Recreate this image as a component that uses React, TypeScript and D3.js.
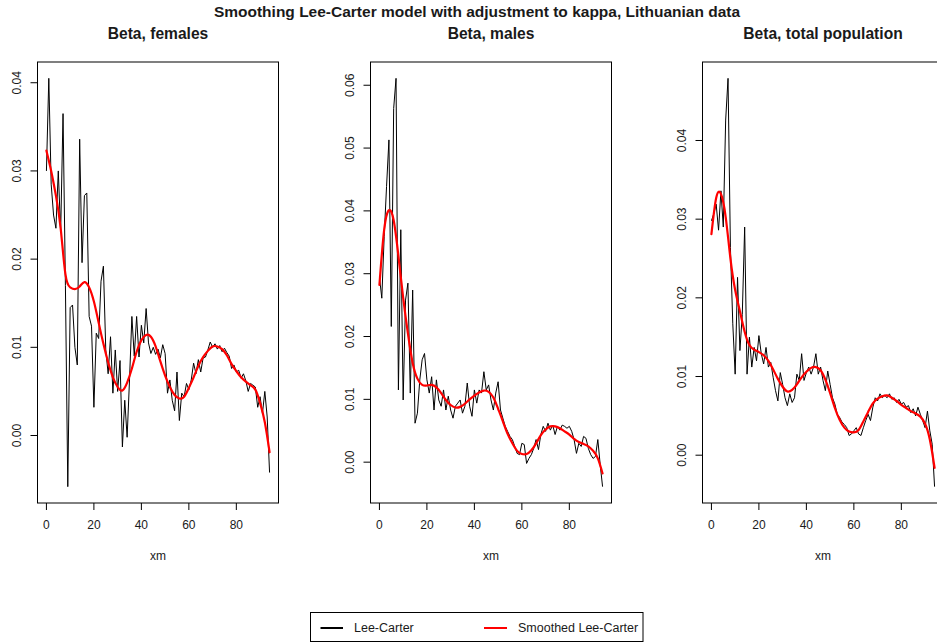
import React from "react";
import * as d3 from "d3";

// Ages 0..94
const ages: number[] = d3.range(0, 95);

// Lee-Carter beta estimates by age
const betaFemales: number[] = [
  0.0300, 0.0405, 0.0285, 0.0250, 0.0235, 0.0300, 0.0230, 0.0365, 0.0170, -0.0058,
  0.0145, 0.0148, 0.0100, 0.0080, 0.0336, 0.0196, 0.0272, 0.0275, 0.0135, 0.0124,
  0.0032, 0.0116, 0.0110, 0.0175, 0.0192, 0.0097, 0.0070, 0.0112, 0.0048, 0.0097,
  0.0050, 0.0085, -0.0013, 0.0040, -0.0002, 0.0063, 0.0135, 0.0090, 0.0135, 0.0089,
  0.0125, 0.0105, 0.0144, 0.0105, 0.0093, 0.0100, 0.0092, 0.0098, 0.0088, 0.0103,
  0.0093, 0.0048, 0.0063, 0.0040, 0.0028, 0.0072, 0.0017, 0.0048, 0.0044, 0.0059,
  0.0052, 0.0063, 0.0082, 0.0070, 0.0086, 0.0072, 0.0088, 0.0089, 0.0097, 0.0106,
  0.0100, 0.0104, 0.0098, 0.0102, 0.0095, 0.0099, 0.0094, 0.0090, 0.0076, 0.0080,
  0.0072, 0.0074, 0.0065, 0.0070, 0.0062, 0.0050, 0.0059, 0.0057, 0.0055, 0.0032,
  0.0044, 0.0025, 0.0050, 0.0021, -0.0042,
];

const betaMales: number[] = [
  0.0295, 0.0261, 0.0359, 0.0439, 0.0513, 0.0216, 0.0563, 0.0611, 0.0115, 0.0370,
  0.0099, 0.0258, 0.0285, 0.0110, 0.0274, 0.0062, 0.0078, 0.0131, 0.0163, 0.0173,
  0.0131, 0.0110, 0.0136, 0.0083, 0.0131, 0.0099, 0.0089, 0.0115, 0.0083, 0.0105,
  0.0083, 0.0070, 0.0089, 0.0094, 0.0099, 0.0078, 0.0089, 0.0126, 0.0089, 0.0073,
  0.0115, 0.0094, 0.0115, 0.0110, 0.0144, 0.0115, 0.0123, 0.0099, 0.0083, 0.0110,
  0.0128, 0.0083, 0.0070, 0.0057, 0.0049, 0.0041, 0.0036, 0.0025, 0.0014, 0.0012,
  0.0030, 0.0028, -0.0002, 0.0006, 0.0012, 0.0022, 0.0036, 0.0020, 0.0044, 0.0057,
  0.0049, 0.0062, 0.0051, 0.0059, 0.0044, 0.0057, 0.0051, 0.0059, 0.0057, 0.0054,
  0.0057, 0.0049, 0.0036, 0.0014, 0.0030, 0.0025, 0.0041, 0.0038, 0.0022, 0.0012,
  0.0006, 0.0009, 0.0036, -0.0004, -0.0039,
];

const betaTotal: number[] = [
  0.0298, 0.0307, 0.0319, 0.0286, 0.0336, 0.0290, 0.0426, 0.0479, 0.0264, 0.0167,
  0.0103, 0.0226, 0.0133, 0.0179, 0.0290, 0.0103, 0.0150, 0.0112, 0.0137, 0.0120,
  0.0152, 0.0129, 0.0116, 0.0137, 0.0112, 0.0118, 0.0099, 0.0082, 0.0069, 0.0105,
  0.0090, 0.0073, 0.0063, 0.0078, 0.0067, 0.0073, 0.0103, 0.0095, 0.0129, 0.0095,
  0.0105, 0.0112, 0.0103, 0.0112, 0.0129, 0.0103, 0.0112, 0.0095, 0.0082, 0.0107,
  0.0090, 0.0073, 0.0065, 0.0052, 0.0048, 0.0042, 0.0039, 0.0035, 0.0025, 0.0027,
  0.0031, 0.0035, 0.0027, 0.0025, 0.0035, 0.0044, 0.0052, 0.0044, 0.0061, 0.0073,
  0.0069, 0.0078, 0.0073, 0.0076, 0.0073, 0.0078, 0.0071, 0.0073, 0.0067, 0.0071,
  0.0065, 0.0067, 0.0061, 0.0063, 0.0054, 0.0059, 0.0050, 0.0061, 0.0052, 0.0044,
  0.0035, 0.0056, 0.0031, 0.0014, -0.0040,
];

// Smoothed beta, given at knot ages
const smoothAges: number[] = [
  0, 2, 4, 6, 8, 10, 12, 14, 16, 18, 20, 22, 24, 26, 28, 30, 32, 34, 36, 38, 40, 42, 44, 46,
  48, 50, 52, 54, 56, 58, 60, 62, 64, 66, 68, 70, 72, 74, 76, 78, 80, 82, 84, 86, 88, 90, 92, 94,
];

const smoothFemales: number[] = [
  0.0323, 0.0300, 0.0272, 0.0235, 0.0183, 0.0168, 0.0166, 0.0169, 0.0174, 0.0168, 0.0152, 0.0128,
  0.0104, 0.0083, 0.0066, 0.0055, 0.0051, 0.0060, 0.0076, 0.0095, 0.0108, 0.0114, 0.0112, 0.0101,
  0.0084, 0.0068, 0.0055, 0.0046, 0.0042, 0.0044, 0.0054, 0.0066, 0.0079, 0.0089, 0.0096, 0.0101,
  0.0101, 0.0098, 0.0091, 0.0081, 0.0073, 0.0066, 0.0061, 0.0057, 0.0052, 0.0037, 0.0015, -0.0019,
];

const smoothMales: number[] = [
  0.0282, 0.0370, 0.0401, 0.0385, 0.0328, 0.0262, 0.0205, 0.0158, 0.0133, 0.0123, 0.0122, 0.0123,
  0.0119, 0.0110, 0.0099, 0.0091, 0.0087, 0.0088, 0.0093, 0.0100, 0.0106, 0.0111, 0.0114, 0.0112,
  0.0103, 0.0085, 0.0065, 0.0045, 0.0030, 0.0018, 0.0013, 0.0013, 0.0019, 0.0030, 0.0043, 0.0052,
  0.0057, 0.0057, 0.0054, 0.0049, 0.0044, 0.0037, 0.0032, 0.0029, 0.0025, 0.0018, 0.0006, -0.0018,
];

const smoothTotal: number[] = [
  0.0281, 0.0327, 0.0332, 0.0303, 0.0250, 0.0210, 0.0183, 0.0157, 0.0140, 0.0134, 0.0131, 0.0127,
  0.0120, 0.0109, 0.0097, 0.0087, 0.0081, 0.0083, 0.0090, 0.0099, 0.0106, 0.0111, 0.0112, 0.0108,
  0.0096, 0.0079, 0.0060, 0.0045, 0.0035, 0.0030, 0.0029, 0.0032, 0.0043, 0.0055, 0.0066, 0.0072,
  0.0075, 0.0076, 0.0073, 0.0069, 0.0064, 0.0060, 0.0056, 0.0053, 0.0049, 0.0040, 0.0020, -0.0016,
];

const xTicks: number[] = [0, 20, 40, 60, 80];
const yTicksFemales: number[] = [0, 0.01, 0.02, 0.03, 0.04];
const yTicksMales: number[] = [0, 0.01, 0.02, 0.03, 0.04, 0.05, 0.06];
const yTicksTotal: number[] = [0, 0.01, 0.02, 0.03, 0.04];

const panelTitles: string[] = ["Beta, females", "Beta, males", "Beta, total population"];
const legendLabels: string[] = ["Lee-Carter", "Smoothed Lee-Carter"];
const mainTitle = "Smoothing Lee-Carter model with adjustment to kappa, Lithuanian data";

const FONT = "'Liberation Sans', Arial, sans-serif";
const TEXT = "#1a1a1a";

const W = 937;
const H = 644;
const plotTop = 62;
const plotBottom = 503;
const plotWidth = 241;
const panelLefts = [37.5, 370.5, 702.5];

// R-style 4% padding around the data range
function padded(ext: [number, number]): [number, number] {
  const r = ext[1] - ext[0];
  return [ext[0] - 0.04 * r, ext[1] + 0.04 * r];
}

type PanelProps = {
  left: number;
  title: string;
  raw: number[];
  smooth: number[];
  yTicks: number[];
};

function Panel({ left, title, raw, smooth, yTicks }: PanelProps) {
  const right = left + plotWidth;
  const x = d3.scaleLinear().domain(padded([0, ages[ages.length - 1]])).range([left, right]);
  const y = d3
    .scaleLinear()
    .domain(padded(d3.extent(raw) as [number, number]))
    .range([plotBottom, plotTop]);

  const rawLine = d3
    .line<number>()
    .x((_, i) => x(ages[i]))
    .y((d) => y(d));
  const smoothLine = d3
    .line<number>()
    .x((_, i) => x(smoothAges[i]))
    .y((d) => y(d))
    .curve(d3.curveNatural);
  const fmt = d3.format(".2f");
  const cx = (left + right) / 2;

  return (
    <g>
      <text x={cx} y={39} textAnchor="middle" fontFamily={FONT} fontWeight="bold" fontSize={15.6} fill={TEXT}>
        {title}
      </text>
      <path d={rawLine(raw) ?? ""} fill="none" stroke="#000" strokeWidth={1} strokeLinejoin="round" />
      <path d={smoothLine(smooth) ?? ""} fill="none" stroke="#ff0000" strokeWidth={2.2} strokeLinejoin="round" strokeLinecap="round" />
      <rect x={left} y={plotTop} width={plotWidth} height={plotBottom - plotTop} fill="none" stroke="#000" strokeWidth={1} />
      {xTicks.map((t) => (
        <g key={"x" + t}>
          <line x1={x(t)} x2={x(t)} y1={plotBottom} y2={plotBottom + 7} stroke="#000" />
          <text x={x(t)} y={529} textAnchor="middle" fontFamily={FONT} fontSize={12} fill={TEXT}>
            {t}
          </text>
        </g>
      ))}
      {yTicks.map((t) => (
        <g key={"y" + t}>
          <line x1={left - 7} x2={left} y1={y(t)} y2={y(t)} stroke="#000" />
          <text
            transform={`translate(${left - 16.5},${y(t)}) rotate(-90)`}
            textAnchor="middle"
            fontFamily={FONT}
            fontSize={12}
            fill={TEXT}
          >
            {fmt(t)}
          </text>
        </g>
      ))}
      <text x={cx} y={560} textAnchor="middle" fontFamily={FONT} fontSize={12} fill={TEXT}>
        xm
      </text>
    </g>
  );
}

export default function App() {
  return (
    <svg
      width={W}
      height={H}
      viewBox={`0 0 ${W} ${H}`}
      style={{ position: "absolute", left: 0, top: 0, background: "#fff" }}
    >
      <rect x={0} y={0} width={W} height={H} fill="#fff" />
      <text x={477} y={17} textAnchor="middle" fontFamily={FONT} fontWeight="bold" fontSize={15.5} fill={TEXT}>
        {mainTitle}
      </text>
      <Panel left={panelLefts[0]} title={panelTitles[0]} raw={betaFemales} smooth={smoothFemales} yTicks={yTicksFemales} />
      <Panel left={panelLefts[1]} title={panelTitles[1]} raw={betaMales} smooth={smoothMales} yTicks={yTicksMales} />
      <Panel left={panelLefts[2]} title={panelTitles[2]} raw={betaTotal} smooth={smoothTotal} yTicks={yTicksTotal} />
      <g>
        <rect x={310.5} y={612.5} width={332.5} height={29} fill="#fff" stroke="#000" strokeWidth={1} />
        <line x1={320.5} x2={343} y1={628} y2={628} stroke="#000" strokeWidth={2} />
        <text x={354} y={632} fontFamily={FONT} fontSize={12.5} fill={TEXT}>
          {legendLabels[0]}
        </text>
        <line x1={484} x2={507} y1={628} y2={628} stroke="#ff0000" strokeWidth={2} />
        <text x={518} y={632} fontFamily={FONT} fontSize={12.5} fill={TEXT}>
          {legendLabels[1]}
        </text>
      </g>
    </svg>
  );
}
